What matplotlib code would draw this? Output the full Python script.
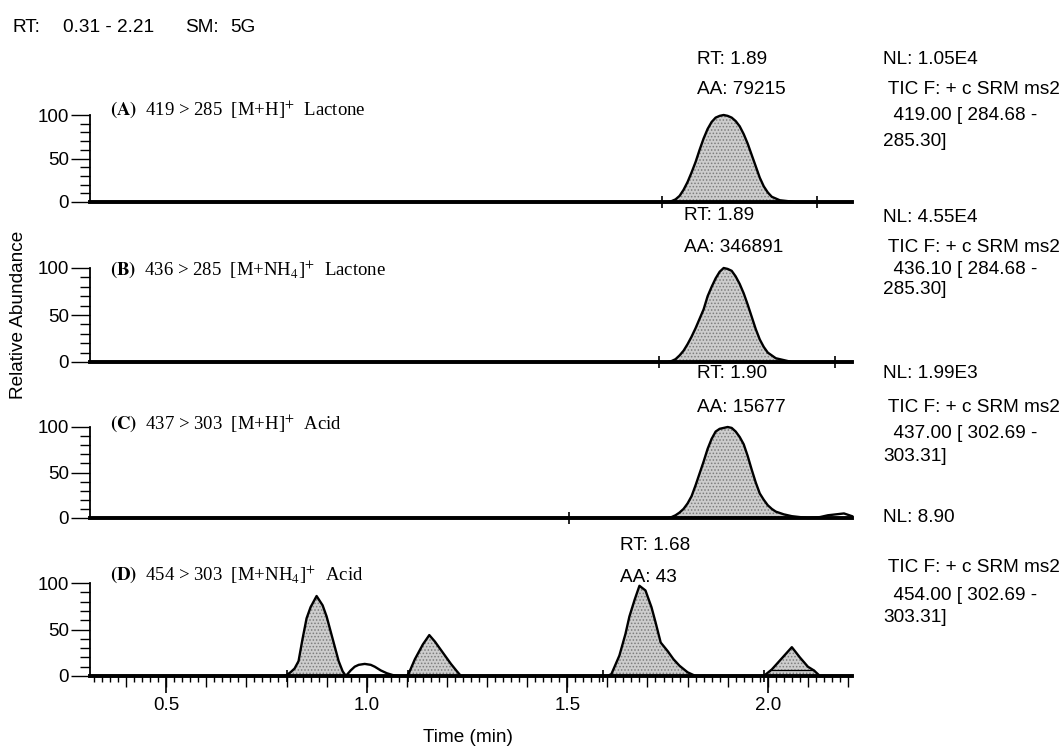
import matplotlib
matplotlib.use("Agg")
import matplotlib.pyplot as plt
from matplotlib.ticker import MultipleLocator, FixedLocator, NullFormatter

plt.rcParams["mathtext.fontset"] = "stix"
plt.rcParams["hatch.linewidth"] = 0.7

SANS = "Liberation Sans"
SERIF = "Liberation Serif"

# ---------------- chromatogram data (time in min, relative abundance %) -------------
x_range = (0.31, 2.21)

a_time = [0.31, 1.74, 1.75, 1.76, 1.77, 1.78, 1.79, 1.80, 1.81, 1.82, 1.83, 1.84, 1.85,
          1.86, 1.87, 1.88, 1.89, 1.90, 1.91, 1.92, 1.93, 1.94, 1.95, 1.96, 1.97, 1.98,
          1.99, 2.00, 2.01, 2.02, 2.03, 2.05, 2.07, 2.21]
a_abund = [0, 0, 0, 1, 3, 7, 14, 23, 34, 46, 60, 73, 84,
           92, 97, 99, 100, 99, 97, 93, 87, 78, 67, 54, 41, 28,
           18, 11, 6, 4, 2, 1, 0, 0]

b_time = [0.31, 1.74, 1.75, 1.76, 1.77, 1.78, 1.79, 1.80, 1.81, 1.82, 1.83, 1.84, 1.85,
          1.86, 1.87, 1.88, 1.89, 1.90, 1.91, 1.92, 1.93, 1.94, 1.95, 1.96, 1.97, 1.98,
          1.99, 2.00, 2.01, 2.02, 2.04, 2.06, 2.21]
b_abund = [0, 0, 0, 1, 3, 7, 12, 19, 27, 36, 46, 56, 70,
           80, 89, 96, 100, 99, 97, 91, 83, 73, 61, 48, 35, 24,
           16, 10, 7, 4, 2, 0, 0]

c_time = [0.31, 1.74, 1.75, 1.76, 1.77, 1.78, 1.79, 1.80, 1.81, 1.82, 1.83, 1.84, 1.85,
          1.86, 1.87, 1.88, 1.89, 1.90, 1.91, 1.92, 1.93, 1.94, 1.95, 1.96, 1.97, 1.98,
          1.99, 2.00, 2.01, 2.02, 2.04, 2.06, 2.08, 2.10, 2.13, 2.15, 2.17, 2.19, 2.21]
c_abund = [0, 0, 0, 1, 3, 6, 10, 16, 24, 36, 49, 62, 76,
           87, 95, 98, 99, 100, 99, 95, 89, 81, 68, 53, 39, 27,
           20, 14, 10, 7, 4, 2, 1, 0, 1, 3, 4, 5, 2]

d_time = [0.31, 0.79, 0.80, 0.81, 0.82, 0.83, 0.84, 0.85, 0.86, 0.875, 0.89, 0.90, 0.91,
          0.92, 0.93, 0.94, 0.948, 0.96, 0.97, 0.98, 0.995, 1.01, 1.02, 1.035, 1.05,
          1.065, 1.08, 1.10, 1.105, 1.12, 1.14, 1.156, 1.17, 1.19, 1.21, 1.225, 1.235,
          1.60, 1.61, 1.63, 1.645, 1.655, 1.668, 1.68, 1.695, 1.71, 1.72, 1.733, 1.75,
          1.765, 1.78, 1.80, 1.82, 1.99, 2.01, 2.035, 2.06, 2.08, 2.10, 2.115, 2.13, 2.21]
d_abund = [0, 0, 1, 4, 8, 16, 40, 62, 74, 86, 76, 64, 48,
           32, 16, 5, 0, 6, 10, 12, 13, 12, 10, 6, 3,
           1, 0, 0, 3, 18, 34, 44, 37, 25, 13, 5, 0,
           0, 2, 22, 45, 64, 82, 97, 92, 74, 58, 36, 27,
           18, 11, 4, 0, 0, 7, 19, 31, 20, 10, 6, 0, 0]

# integrated windows (shaded) and peak start/end markers
a_windows = [(1.75, 2.07)]
b_windows = [(1.75, 2.06)]
c_windows = [(1.75, 2.10)]
d_windows = [(0.80, 0.948), (1.10, 1.235), (1.60, 1.82), (1.99, 2.13)]
a_marks = [1.736, 2.122]
b_marks = [1.728, 2.167]
c_marks = [1.505]
d_marks = [0.80, 1.103, 1.59, 1.99]

panel_titles = [
    r"$\mathbf{(A)}$  419 > 285  [M+H]$^{+}$  Lactone",
    r"$\mathbf{(B)}$  436 > 285  [M+NH$_4$]$^{+}$  Lactone",
    r"$\mathbf{(C)}$  437 > 303  [M+H]$^{+}$  Acid",
    r"$\mathbf{(D)}$  454 > 303  [M+NH$_4$]$^{+}$  Acid",
]
peak_rt = ["RT: 1.89", "RT: 1.89", "RT: 1.90", "RT: 1.68"]
peak_area = ["AA: 79215", "AA: 346891", "AA: 15677", "AA: 43"]
norm_level = ["NL: 1.05E4", "NL: 4.55E4", "NL: 1.99E3", "NL: 8.90"]
scan_filter = [
    [" TIC F: + c SRM ms2", "  419.00 [ 284.68 -", "285.30]"],
    [" TIC F: + c SRM ms2", "  436.10 [ 284.68 -", "285.30]"],
    [" TIC F: + c SRM ms2", "  437.00 [ 302.69 -", "303.31]"],
    [" TIC F: + c SRM ms2", "  454.00 [ 302.69 -", "303.31]"],
]
header = ["RT:", "0.31 - 2.21", "SM:", "5G"]
x_major = [0.5, 1.0, 1.5, 2.0]
x_major_labels = ["0.5", "1.0", "1.5", "2.0"]
y_major = [0, 50, 100]

traces = [(a_time, a_abund), (b_time, b_abund), (c_time, c_abund), (d_time, d_abund)]
windows = [a_windows, b_windows, c_windows, d_windows]
marks = [a_marks, b_marks, c_marks, d_marks]

# ---------------- layout (pixels) ----------------
W, H = 1062, 747
fig = plt.figure(figsize=(W / 100, H / 100), dpi=100)
left_px, right_px = 90, 852
zero_px = [202, 362, 518, 676]
full_px = [115, 268, 427, 583]
rt_y = [59, 215, 373, 546]
aa_y = [90, 247, 407, 578]
rt_x = [697, 684, 697, 620]
nl_y = [[59, 90, 116, 142], [217, 248, 269, 290], [373, 407, 434, 457], [518, 568, 595, 618]]
title_y = [110, 270, 424, 575]
header_x = [12, 63, 185, 230]

SANS_SIZE = 13.7


def fx(px):
    return px / W


def fy(py):
    return 1 - py / H


axes = []
for i in range(4):
    ax = fig.add_axes([fx(left_px), fy(zero_px[i]), fx(right_px - left_px),
                       (zero_px[i] - full_px[i]) / H])
    axes.append(ax)
    t, v = traces[i]
    ax.set_xlim(*x_range)
    ax.set_ylim(0, 100)
    for lo, hi in windows[i]:
        ax.fill_between(t, v, 0, where=[lo <= tt <= hi for tt in t],
                        facecolor="#cdcdcd", edgecolor="#7c7c7c", hatch=".....",
                        linewidth=0, interpolate=True, zorder=1)
    ax.plot(t, v, color="black", lw=1.7, zorder=3, clip_on=False,
            solid_joinstyle="round")
    ax.plot(marks[i], [0] * len(marks[i]), linestyle="none", marker="|",
            markersize=9, markeredgewidth=1.2, color="black", zorder=4, clip_on=False)

    for s in ("top", "right"):
        ax.spines[s].set_visible(False)
    ax.spines["left"].set_linewidth(1.3)
    ax.spines["bottom"].set_linewidth(2.8)
    ax.spines["bottom"].set_zorder(2)

    ax.yaxis.set_major_locator(FixedLocator(y_major))
    ax.yaxis.set_minor_locator(MultipleLocator(10))
    ax.tick_params(axis="y", which="major", direction="out", length=14, width=1.0,
                   labelsize=13.5, pad=1)
    ax.tick_params(axis="y", which="minor", direction="out", length=7, width=1.0)
    for lab in ax.get_yticklabels():
        lab.set_fontfamily(SANS)

    if i < 3:
        ax.set_xticks([])
    else:
        ax.xaxis.set_major_locator(MultipleLocator(0.1))
        ax.xaxis.set_minor_locator(MultipleLocator(0.02))
        ax.xaxis.set_major_formatter(NullFormatter())
        ax.tick_params(axis="x", which="major", direction="out", length=8, width=1.0)
        ax.tick_params(axis="x", which="minor", direction="out", length=4.5, width=1.0)
        sec = ax.secondary_xaxis("bottom")
        sec.set_xticks(x_major, labels=x_major_labels)
        sec.spines["bottom"].set_visible(False)
        sec.tick_params(direction="out", length=12, width=1.2, labelsize=13.5, pad=3)
        for lab in sec.get_xticklabels():
            lab.set_fontfamily(SANS)

    ax.patch.set_alpha(0)

# drop line of the last integrated peak
axes[3].plot([2.01, 2.115], [6, 6], color="black", lw=0.9, zorder=3)

# ---------------- annotations ----------------
txt = dict(fontfamily=SANS, fontsize=SANS_SIZE, va="center", ha="left")
for word, xpx in zip(header, header_x):
    fig.text(fx(xpx), fy(28), word, **txt)
for i in range(4):
    fig.text(fx(110), fy(title_y[i]), panel_titles[i], fontfamily=SERIF, fontsize=13.5,
             va="center", ha="left")
    fig.text(fx(rt_x[i]), fy(rt_y[i]), peak_rt[i], **txt)
    fig.text(fx(rt_x[i]), fy(aa_y[i]), peak_area[i], **txt)
    lines = [norm_level[i]] + scan_filter[i]
    for line, ypx in zip(lines, nl_y[i]):
        fig.text(fx(883), fy(ypx), line, **txt)

fig.text(fx(19), fy(315), "Relative Abundance", fontfamily=SANS, fontsize=SANS_SIZE,
         rotation=90, va="center", ha="center")
fig.text(fx(468), fy(737), "Time (min)", fontfamily=SANS, fontsize=SANS_SIZE,
         va="center", ha="center")

fig.savefig("out.png", dpi=100)
